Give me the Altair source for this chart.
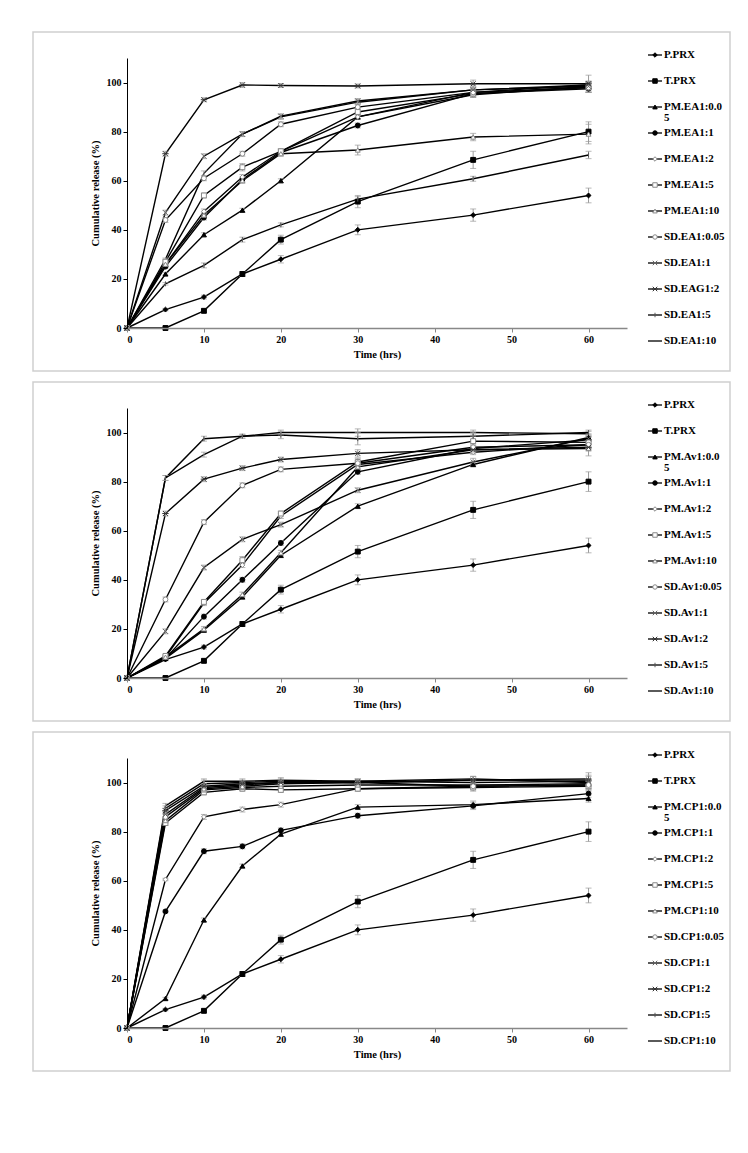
import altair as alt
import pandas as pd

# ---------------- data ----------------
TIMES = [0, 5, 10, 15, 20, 30, 45, 60]
KEYS = ["P", "T", "PM005", "PM1", "PM2", "PM5", "PM10", "SD005", "SD1", "SD2", "SD5", "SD10"]

P_PRX = [0, 7.5, 12.6, 22, 28, 40, 46, 54]
P_PRX_ERR = [0, 0.5, 0.8, 1.0, 1.5, 2.0, 2.5, 3.0]
T_PRX = [0, 0, 7, 22, 36, 51.5, 68.5, 80]
T_PRX_ERR = [0, 0.3, 0.8, 1.0, 1.8, 2.5, 3.5, 4.0]

# Panel 1: EA
EA_LABELS = ["P.PRX", "T.PRX", "PM.EA1:0.0\n5", "PM.EA1:1", "PM.EA1:2", "PM.EA1:5", "PM.EA1:10",
             "SD.EA1:0.05", "SD.EA1:1", "SD.EAG1:2", "SD.EA1:5", "SD.EA1:10"]
EA_PM005 = [0, 22, 38, 48, 60, 86, 96, 99]
EA_PM1 = [0, 25, 45, 60.5, 71.5, 82.5, 95.5, 97.5]
EA_PM2 = [0, 26, 47.5, 61.5, 72, 86, 95, 98.5]
EA_PM5 = [0, 27, 54, 65.5, 72, 88, 95.5, 98]
EA_PM10 = [0, 26, 46, 60, 71, 72.5, 77.8, 79]
EA_SD005 = [0, 44, 61, 71, 83, 90, 96, 98]
EA_SD1 = [0, 47, 70, 79, 86.3, 92.5, 97, 98.5]
EA_SD2 = [0, 71, 93, 99, 98.8, 98.6, 99.5, 99.5]
EA_SD5 = [0, 18, 25.5, 36, 42, 52.5, 60.8, 70.5]
EA_SD10 = [0, 28, 63, 79, 86, 92, 97, 99]
EA_ERR = [
    P_PRX_ERR, T_PRX_ERR,
    [0, 0.5, 0.8, 0.8, 0.8, 1.0, 1.5, 1.5],
    [0, 0.5, 1.0, 1.0, 1.0, 1.0, 1.5, 1.5],
    [0, 0.5, 1.0, 1.0, 1.0, 1.0, 1.0, 1.5],
    [0, 1.0, 1.0, 1.5, 1.0, 1.5, 1.5, 2.0],
    [0, 1.0, 1.0, 1.0, 1.0, 2.0, 1.5, 4.0],
    [0, 1.0, 1.0, 1.0, 1.0, 1.0, 1.5, 2.0],
    [0, 1.0, 1.0, 1.0, 1.0, 1.0, 1.5, 2.0],
    [0, 1.0, 0.8, 1.0, 0.8, 0.8, 1.5, 3.5],
    [0, 0.5, 1.0, 1.0, 0.8, 1.0, 1.0, 1.5],
    [0, 0.5, 1.0, 1.0, 1.0, 1.0, 1.0, 1.5],
]

# Panel 2: Av
AV_LABELS = ["P.PRX", "T.PRX", "PM.Av1:0.0\n5", "PM.Av1:1", "PM.Av1:2", "PM.Av1:5", "PM.Av1:10",
             "SD.Av1:0.05", "SD.Av1:1", "SD.Av1:2", "SD.Av1:5", "SD.Av1:10"]
AV_PM005 = [0, 8, 19.5, 33, 50, 70, 87, 98]
AV_PM1 = [0, 8, 25, 40, 55, 84, 93.5, 97]
AV_PM2 = [0, 8.5, 30.5, 46, 66, 87, 92, 95]
AV_PM5 = [0, 9, 31, 48, 67, 88, 96.5, 96]
AV_PM10 = [0, 8.5, 20, 34, 51, 86, 93, 93.5]
AV_SD005 = [0, 32, 63.5, 78.5, 85, 87.5, 94, 95]
AV_SD1 = [0, 19, 45, 56.5, 62.5, 76.5, 88, 97.5]
AV_SD2 = [0, 67, 81, 85.5, 89, 91.5, 93, 94]
AV_SD5 = [0, 81.5, 97.5, 98.5, 99, 97.5, 98.5, 100]
AV_SD10 = [0, 81.5, 91, 98.5, 100, 100, 100, 99.5]
AV_ERR = [
    P_PRX_ERR, T_PRX_ERR,
    [0, 0.5, 0.8, 0.8, 1.0, 1.0, 1.0, 1.5],
    [0, 0.5, 1.0, 1.0, 1.0, 1.0, 1.5, 1.5],
    [0, 0.5, 1.0, 1.0, 1.0, 1.0, 1.0, 1.5],
    [0, 0.5, 1.0, 1.5, 1.0, 1.5, 2.0, 2.0],
    [0, 0.5, 1.0, 1.0, 1.0, 1.0, 1.5, 3.0],
    [0, 1.0, 1.0, 1.0, 1.0, 1.0, 1.5, 1.5],
    [0, 1.0, 1.0, 1.0, 1.0, 1.0, 1.5, 1.5],
    [0, 1.0, 1.0, 1.0, 1.0, 1.5, 1.0, 1.5],
    [0, 1.0, 1.0, 0.8, 1.5, 2.5, 1.5, 1.0],
    [0, 1.0, 1.0, 0.8, 1.0, 1.5, 1.0, 1.0],
]

# Panel 3: CP
CP_LABELS = ["P.PRX", "T.PRX", "PM.CP1:0.0\n5", "PM.CP1:1", "PM.CP1:2", "PM.CP1:5", "PM.CP1:10",
             "SD.CP1:0.05", "SD.CP1:1", "SD.CP1:2", "SD.CP1:5", "SD.CP1:10"]
CP_PM005 = [0, 12, 44, 66, 79, 90, 91, 93.5]
CP_PM1 = [0, 47.5, 72, 74, 80.5, 86.5, 90.5, 95.5]
CP_PM2 = [0, 60.5, 86, 89, 91, 97.5, 98.5, 99]
CP_PM5 = [0, 83.5, 96, 97.5, 97, 97.5, 98, 98.5]
CP_PM10 = [0, 84.5, 97, 98, 98.5, 99, 99, 99.5]
CP_SD005 = [0, 86, 97.5, 98.5, 99.5, 100, 98.5, 99]
CP_SD1 = [0, 87, 98, 99, 100, 100.5, 100, 100.5]
CP_SD2 = [0, 88.5, 98.5, 99.5, 100, 100, 101, 101]
CP_SD5 = [0, 89.5, 99.5, 100, 100.5, 100, 101, 101.5]
CP_SD10 = [0, 90.5, 100.5, 100.5, 101, 100.5, 101.5, 100]
CP_ERR = [
    P_PRX_ERR, T_PRX_ERR,
    [0, 0.5, 0.8, 0.8, 1.0, 1.0, 1.5, 1.5],
    [0, 0.5, 1.0, 1.0, 1.0, 1.0, 1.5, 1.5],
    [0, 0.5, 1.0, 1.0, 1.0, 1.0, 1.0, 1.5],
    [0, 1.0, 1.0, 1.0, 1.0, 1.0, 1.5, 2.0],
    [0, 1.0, 1.0, 1.0, 1.0, 1.0, 1.5, 2.0],
    [0, 1.0, 1.0, 1.0, 1.0, 1.0, 1.5, 2.0],
    [0, 1.0, 1.0, 1.0, 1.0, 1.0, 1.5, 2.0],
    [0, 1.0, 1.0, 1.0, 1.0, 1.0, 1.5, 2.0],
    [0, 1.0, 1.5, 1.0, 1.0, 1.0, 1.5, 2.5],
    [0, 1.0, 1.0, 1.0, 1.0, 1.0, 1.0, 1.5],
]

# ---------------- styles ----------------
SHAPES = ["diamond", "square", "triangle-up", "circle", "diamond", "square", "triangle-up", "circle",
          "M-1,-1L1,1M-1,1L1,-1", "M-1,-1L1,1M-1,1L1,-1M-1.3,0L1.3,0", "M0,-1L0,1", "circle"]
FILLS = ["black", "black", "black", "black", "white", "white", "white", "white",
         "transparent", "transparent", "transparent", "transparent"]
STROKES = ["black", "black", "black", "black", "#888888", "#888888", "#888888", "#888888",
           "#666666", "#333333", "#555555", "transparent"]

FONT = "Liberation Serif"
W, H = 500, 270
X_TITLE = "Time (hrs)"
Y_TITLE = "Cumulative release (%)"

shape_scale = alt.Scale(domain=KEYS, range=SHAPES)
fill_scale = alt.Scale(domain=KEYS, range=FILLS)
stroke_scale = alt.Scale(domain=KEYS, range=STROKES)
x_scale = alt.Scale(domain=[0, 65], nice=False, zero=False)
y_scale = alt.Scale(domain=[0, 110], nice=False)


def xenc(field):
    return alt.X(field, scale=x_scale, title=X_TITLE,
                 axis=alt.Axis(values=[0, 10, 20, 30, 40, 50, 60], domainColor="#888888",
                               tickColor="#888888", labelPadding=2, titlePadding=5, domainWidth=1.5,
                               zindex=1))


def yenc(field):
    return alt.Y(field, scale=y_scale, title=Y_TITLE,
                 axis=alt.Axis(values=[0, 20, 40, 60, 80, 100], labelPadding=2, titlePadding=6,
                               zindex=1))


def build_panel(labels, series, errors):
    rows = []
    for k, vals, errs in zip(KEYS, series, errors):
        for t, v, e in zip(TIMES, vals, errs):
            rows.append({"k": k, "t": t, "v": v, "lo": v - e, "hi": v + e, "e": e})
    df = pd.DataFrame(rows)
    base = alt.Chart(df)

    lines = base.mark_line(color="black", strokeWidth=1.4).encode(
        x=xenc("t:Q"), y=yenc("v:Q"), detail="k:N", order="t:Q",
    )
    ebase = base.transform_filter("datum.e > 0")
    err_rule = ebase.mark_rule(color="#9a9a9a", strokeWidth=1).encode(
        x=xenc("t:Q"), y=yenc("lo:Q"), y2="hi:Q",
    )
    cap_hi = ebase.mark_tick(color="#9a9a9a", orient="horizontal", size=6, thickness=1).encode(
        x=xenc("t:Q"), y=yenc("hi:Q"),
    )
    cap_lo = ebase.mark_tick(color="#9a9a9a", orient="horizontal", size=6, thickness=1).encode(
        x=xenc("t:Q"), y=yenc("lo:Q"),
    )
    points = base.transform_filter("datum.k != 'SD10'").mark_point(
        size=24, strokeWidth=1, opacity=1, fillOpacity=1
    ).encode(
        x=xenc("t:Q"), y=yenc("v:Q"),
        shape=alt.Shape("k:N", scale=shape_scale, legend=None),
        fill=alt.Fill("k:N", scale=fill_scale, legend=None),
        stroke=alt.Stroke("k:N", scale=stroke_scale, legend=None),
    )
    plot = alt.layer(lines, err_rule, cap_hi, cap_lo, points)

    # manual legend
    lrows = []
    for i, (k, lab) in enumerate(zip(KEYS, labels)):
        parts = lab.split("\n")
        lrows.append({"k": k, "idx": i, "x0": 0, "x1": 1, "xm": 0.5,
                      "l1": parts[0], "l2": parts[1] if len(parts) > 1 else ""})
    ldf = pd.DataFrame(lrows)
    lb = alt.Chart(ldf)
    lx = alt.Scale(domain=[0, 1], range=[521, 535])
    ly = alt.Scale(domain=[0, 11], range=[-3, 283])
    leg_rule = lb.mark_rule(color="black", strokeWidth=1.3).encode(
        x=alt.X("x0:Q", scale=lx, axis=None), x2="x1:Q",
        y=alt.Y("idx:Q", scale=ly, axis=None),
    )
    leg_pts = lb.transform_filter("datum.k != 'SD10'").mark_point(
        size=20, strokeWidth=1, opacity=1, fillOpacity=1
    ).encode(
        x=alt.X("xm:Q", scale=lx, axis=None),
        y=alt.Y("idx:Q", scale=ly, axis=None),
        shape=alt.Shape("k:N", scale=shape_scale, legend=None),
        fill=alt.Fill("k:N", scale=fill_scale, legend=None),
        stroke=alt.Stroke("k:N", scale=stroke_scale, legend=None),
    )
    leg_t1 = lb.mark_text(align="left", baseline="middle", dx=2, font=FONT, fontSize=11,
                          fontWeight="bold", color="black").encode(
        x=alt.X("x1:Q", scale=lx, axis=None),
        y=alt.Y("idx:Q", scale=ly, axis=None),
        text="l1:N",
    )
    leg_t2 = lb.mark_text(align="left", baseline="middle", dx=2, dy=11, font=FONT, fontSize=11,
                          fontWeight="bold", color="black").encode(
        x=alt.X("x1:Q", scale=lx, axis=None),
        y=alt.Y("idx:Q", scale=ly, axis=None),
        text="l2:N",
    )
    legend = alt.layer(leg_rule, leg_pts, leg_t1, leg_t2)

    border = alt.Chart(pd.DataFrame({"a": [0]})).mark_rect(
        fill="transparent", stroke="#cfcfcf", strokeWidth=1.5
    ).encode(
        x=alt.value(-94), x2=alt.value(603), y=alt.value(-26), y2=alt.value(313)
    )

    return alt.layer(border, plot, legend).resolve_scale(x="independent", y="independent").properties(
        width=W, height=H
    )


p1 = build_panel(EA_LABELS, [P_PRX, T_PRX, EA_PM005, EA_PM1, EA_PM2, EA_PM5, EA_PM10,
                             EA_SD005, EA_SD1, EA_SD2, EA_SD5, EA_SD10], EA_ERR)
p2 = build_panel(AV_LABELS, [P_PRX, T_PRX, AV_PM005, AV_PM1, AV_PM2, AV_PM5, AV_PM10,
                             AV_SD005, AV_SD1, AV_SD2, AV_SD5, AV_SD10], AV_ERR)
p3 = build_panel(CP_LABELS, [P_PRX, T_PRX, CP_PM005, CP_PM1, CP_PM2, CP_PM5, CP_PM10,
                             CP_SD005, CP_SD1, CP_SD2, CP_SD5, CP_SD10], CP_ERR)

chart = alt.vconcat(p1, p2, p3, spacing=9).properties(
    padding={"left": 24, "top": 23, "right": 5, "bottom": 5}
).configure_axis(
    labelFont=FONT, labelFontSize=10, labelFontWeight="bold", labelColor="black",
    titleFont=FONT, titleFontSize=10.5, titleFontWeight="bold", titleColor="black",
    grid=False, tickSize=4, domainColor="black", tickColor="black",
).configure_view(strokeWidth=0)

chart.save("out.html", embed_options={"renderer": "svg", "actions": False})
